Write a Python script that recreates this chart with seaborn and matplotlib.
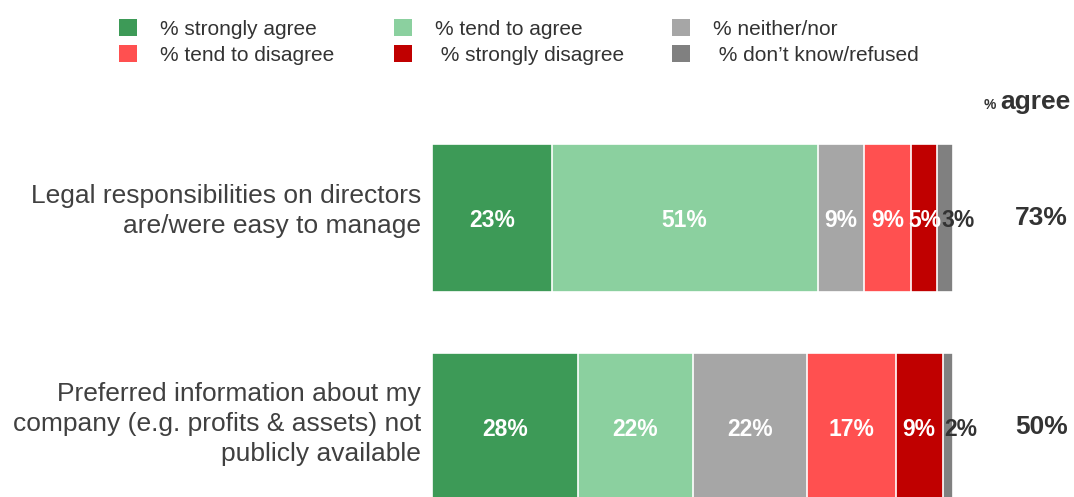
import matplotlib
matplotlib.use("Agg")
import matplotlib.pyplot as plt
from matplotlib.patches import Patch
import numpy as np
import pandas as pd
import seaborn as sns

categories = [
    "Legal responsibilities on directors\nare/were easy to manage",
    "Preferred information about my\ncompany (e.g. profits & assets) not\npublicly available",
]
responses = ["% strongly agree", "% tend to agree", "% neither/nor",
             "% tend to disagree", " % strongly disagree", " % don\u2019t know/refused"]
strongly_agree = [23, 28]
tend_to_agree = [51, 22]
neither_nor = [9, 22]
tend_to_disagree = [9, 17]
strongly_disagree = [5, 9]
dont_know = [3, 2]
agree_total = [73, 50]

colors = ["#3d9a57", "#8bd09f", "#a6a6a6", "#ff5050", "#c00000", "#808080"]
label_colors = ["white", "white", "white", "white", "white", "#333333"]

series = [strongly_agree, tend_to_agree, neither_nor,
          tend_to_disagree, strongly_disagree, dont_know]

sns.set_style("white")
plt.rcParams["font.family"] = ["Liberation Sans", "DejaVu Sans"]

fig = plt.figure(figsize=(10.74, 4.97), dpi=100)
W, H = 1074, 497
ax = fig.add_axes([432 / W, 0, 521 / W, 1])

vals = np.array(series, dtype=float)  # shape (segments, categories)
cum_end = vals.cumsum(axis=0)
cum_start = cum_end - vals

# stacked bars: draw cumulative totals from the outermost segment inwards
for i in range(len(series) - 1, -1, -1):
    df = pd.DataFrame({"category": categories, "value": cum_end[i]})
    sns.barplot(data=df, x="value", y="category", orient="h", color=colors[i],
                width=0.708, edgecolor="white", linewidth=1.2, saturation=1,
                ax=ax, errorbar=None)

for i in range(len(series)):
    for j in range(len(categories)):
        v = vals[i, j]
        xc = cum_start[i, j] + v / 2
        if i == len(series) - 1:
            xc += 2.5
        ax.text(xc, j + 0.01, f"{int(v)}%", ha="center", va="center",
                color=label_colors[i], fontsize=16.5, fontweight="bold",
                clip_on=False)

for j, t in enumerate(agree_total):
    ax.text(117, j, f"{t}%", ha="center", va="center", color="#333333",
            fontsize=19, fontweight="bold", clip_on=False)

ax.text(108.2, -0.52, "%", ha="right", va="baseline", color="#333333",
        fontsize=10, fontweight="bold", clip_on=False)
ax.text(109.0, -0.52, "agree", ha="left", va="baseline", color="#333333",
        fontsize=19, fontweight="bold", clip_on=False)

# category labels, right-aligned just left of the bars
label_shift = [-0.035, -0.015]
for j, cat in enumerate(categories):
    ax.text(-2.1, j + label_shift[j], cat, ha="right", va="center", ma="right",
            fontsize=19, color="#404040", linespacing=1.33, clip_on=False)

ax.set_xlim(0, 100)
ax.set_ylim(1.335, -1.043)
ax.set_xlabel("")
ax.set_ylabel("")
ax.set_xticks([])
ax.set_yticks([])
sns.despine(ax=ax, left=True, bottom=True)

# legend: three columns, two entries each
col_x = [119, 394, 672]
for c in range(3):
    idx = [c, c + 3]
    handles = [Patch(facecolor=colors[k], edgecolor="none", label=responses[k]) for k in idx]
    fig.legend(handles=handles, loc="upper left",
               bbox_to_anchor=(col_x[c] / W, 1 - 19 / H), frameon=False,
               borderpad=0, borderaxespad=0,
               fontsize=15, handlelength=0.85, handleheight=0.85,
               handletextpad=1.12, labelspacing=0.33,
               labelcolor="#333333")

fig.savefig("out.png", dpi=100)
